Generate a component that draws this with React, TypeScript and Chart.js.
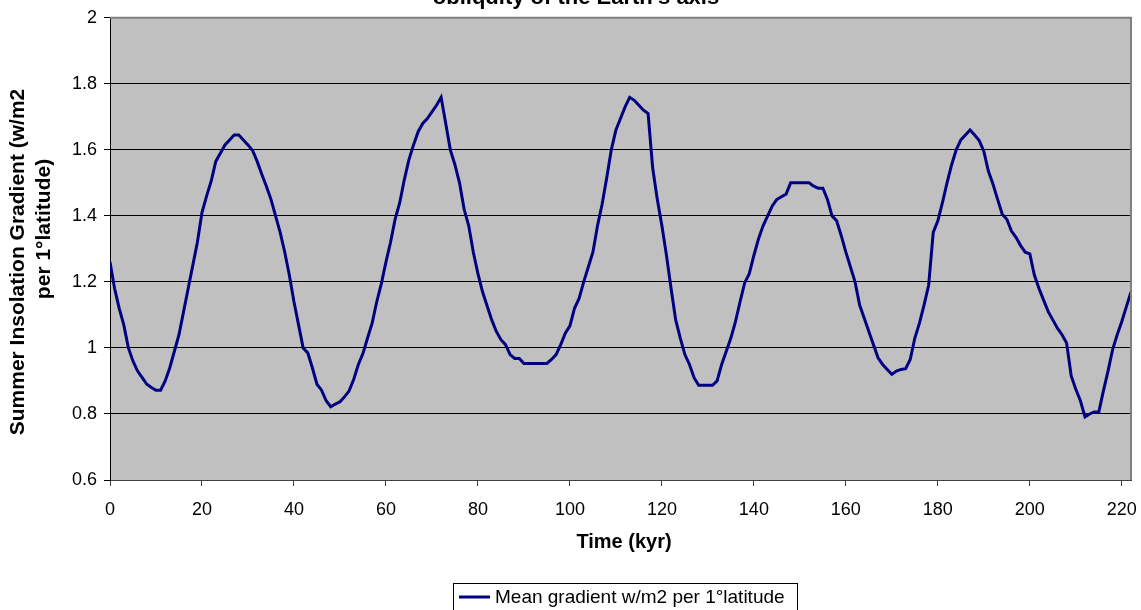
import React, { useEffect, useRef } from "react";
import { Chart, registerables } from "chart.js";

Chart.register(...registerables);

const CHART_TITLE = "obliquity of the Earth's axis";
const X_TITLE = "Time (kyr)";
const Y_TITLE_LINES = ["Summer Insolation Gradient (w/m2", "per 1°latitude)"];
const SERIES_LABEL = "Mean gradient w/m2 per 1°latitude";

const X_TICKS = [0, 20, 40, 60, 80, 100, 120, 140, 160, 180, 200, 220];
const Y_TICKS = [0.6, 0.8, 1, 1.2, 1.4, 1.6, 1.8, 2];

const TIME_KYR = [
  0, 1, 2, 3, 4, 5, 6, 7, 8, 9,
  10, 11, 12, 13, 14, 15, 16, 17, 18, 19,
  20, 21, 22, 23, 24, 25, 26, 27, 28, 29,
  30, 31, 32, 33, 34, 35, 36, 37, 38, 39,
  40, 41, 42, 43, 44, 45, 46, 47, 48, 49,
  50, 51, 52, 53, 54, 55, 56, 57, 58, 59,
  60, 61, 62, 63, 64, 65, 66, 67, 68, 69,
  70, 71, 72, 73, 74, 75, 76, 77, 78, 79,
  80, 81, 82, 83, 84, 85, 86, 87, 88, 89,
  90, 91, 92, 93, 94, 95, 96, 97, 98, 99,
  100, 101, 102, 103, 104, 105, 106, 107, 108, 109,
  110, 111, 112, 113, 114, 115, 116, 117, 118, 119,
  120, 121, 122, 123, 124, 125, 126, 127, 128, 129,
  130, 131, 132, 133, 134, 135, 136, 137, 138, 139,
  140, 141, 142, 143, 144, 145, 146, 147, 148, 149,
  150, 151, 152, 153, 154, 155, 156, 157, 158, 159,
  160, 161, 162, 163, 164, 165, 166, 167, 168, 169,
  170, 171, 172, 173, 174, 175, 176, 177, 178, 179,
  180, 181, 182, 183, 184, 185, 186, 187, 188, 189,
  190, 191, 192, 193, 194, 195, 196, 197, 198, 199,
  200, 201, 202, 203, 204, 205, 206, 207, 208, 209,
  210, 211, 212, 213, 214, 215, 216, 217, 218, 219,
  220, 221, 222,
];

const MEAN_GRADIENT = [
  1.26, 1.18, 1.12, 1.07, 1.0, 0.96, 0.93, 0.91, 0.89, 0.88,
  0.872, 0.872, 0.9, 0.94, 0.99, 1.04, 1.11, 1.18, 1.25, 1.32,
  1.41, 1.46, 1.505, 1.565, 1.59, 1.615, 1.63, 1.645, 1.645, 1.63,
  1.615, 1.598, 1.565, 1.526, 1.49, 1.45, 1.4, 1.35, 1.29, 1.22,
  1.14, 1.07, 1.0, 0.985, 0.94, 0.89, 0.872, 0.84, 0.822, 0.83,
  0.837, 0.852, 0.87, 0.905, 0.95, 0.983, 1.03, 1.075, 1.14, 1.195,
  1.26, 1.32, 1.39, 1.44, 1.51, 1.57, 1.615, 1.655, 1.68, 1.695,
  1.715, 1.735, 1.759, 1.68, 1.6, 1.555, 1.5, 1.42, 1.37, 1.29,
  1.225, 1.17, 1.127, 1.085, 1.05, 1.025, 1.01, 0.98, 0.968, 0.968,
  0.953, 0.953, 0.953, 0.953, 0.953, 0.953, 0.965, 0.98, 1.01, 1.045,
  1.067, 1.12, 1.15, 1.2, 1.245, 1.29, 1.37, 1.435, 1.515, 1.6,
  1.66, 1.695, 1.73, 1.759, 1.75, 1.735, 1.72, 1.71, 1.545, 1.45,
  1.37, 1.28, 1.18, 1.085, 1.03, 0.98, 0.95, 0.91, 0.887, 0.887,
  0.887, 0.887, 0.9, 0.95, 0.99, 1.03, 1.08, 1.14, 1.197, 1.225,
  1.28, 1.33, 1.37, 1.4, 1.43, 1.45, 1.458, 1.466, 1.5, 1.5,
  1.5, 1.5, 1.5, 1.49, 1.484, 1.484, 1.45, 1.4, 1.385, 1.34,
  1.29, 1.245, 1.2, 1.13, 1.09, 1.05, 1.01, 0.97, 0.95, 0.935,
  0.92, 0.93, 0.935, 0.937, 0.965, 1.03, 1.075, 1.13, 1.19, 1.35,
  1.385, 1.44, 1.5, 1.555, 1.6, 1.63, 1.645, 1.66, 1.645, 1.628,
  1.596, 1.535, 1.496, 1.45, 1.405, 1.39, 1.354, 1.335, 1.31, 1.29,
  1.285, 1.22, 1.18, 1.145, 1.11, 1.085, 1.06, 1.04, 1.015, 0.915,
  0.875, 0.84, 0.791, 0.8, 0.806, 0.806, 0.87, 0.93, 0.995, 1.04,
  1.08, 1.125, 1.17,
];

const FONT = "'Liberation Sans', Arial, sans-serif";
const LINE_COLOR = "#000080";
const PLOT_BG = "#C0C0C0";

const decorPlugin = {
  id: "excelDecor",
  beforeDraw(chart: any) {
    const { ctx, chartArea } = chart;
    ctx.save();
    ctx.fillStyle = PLOT_BG;
    ctx.fillRect(chartArea.left, chartArea.top, chartArea.right - chartArea.left, chartArea.bottom - chartArea.top);
    ctx.restore();
  },
  afterDraw(chart: any) {
    const { ctx, chartArea } = chart;
    ctx.save();
    // top & right plot border
    ctx.strokeStyle = "#808080";
    ctx.lineWidth = 2;
    ctx.beginPath();
    ctx.moveTo(chartArea.left, chartArea.top);
    ctx.lineTo(chartArea.right, chartArea.top);
    ctx.lineTo(chartArea.right, chartArea.bottom);
    ctx.stroke();

    // chart title (cut at the top edge)
    ctx.fillStyle = "#000";
    ctx.font = `bold 22px ${FONT}`;
    ctx.textAlign = "center";
    ctx.textBaseline = "alphabetic";
    ctx.fillText(CHART_TITLE, 576, 4);

    // x axis title
    ctx.font = `bold 20px ${FONT}`;
    ctx.textBaseline = "middle";
    ctx.fillText(X_TITLE, 624, 542);

    // y axis title (two rotated lines)
    ctx.font = `bold 21px ${FONT}`;
    ctx.save();
    ctx.translate(18, 262);
    ctx.rotate(-Math.PI / 2);
    ctx.fillText(Y_TITLE_LINES[0], 0, 0);
    ctx.restore();
    ctx.save();
    ctx.translate(44, 229);
    ctx.rotate(-Math.PI / 2);
    ctx.fillText(Y_TITLE_LINES[1], 0, 0);
    ctx.restore();

    // legend box
    ctx.fillStyle = "#fff";
    ctx.fillRect(453.5, 583.5, 344, 40);
    ctx.strokeStyle = "#000";
    ctx.lineWidth = 1;
    ctx.strokeRect(453.5, 583.5, 344, 40);
    ctx.strokeStyle = LINE_COLOR;
    ctx.lineWidth = 3;
    ctx.beginPath();
    ctx.moveTo(459, 597);
    ctx.lineTo(490, 597);
    ctx.stroke();
    ctx.fillStyle = "#000";
    ctx.font = `19px ${FONT}`;
    ctx.textAlign = "left";
    ctx.textBaseline = "middle";
    ctx.fillText(SERIES_LABEL, 495, 598);
    ctx.restore();
  },
};

export default function App() {
  const canvasRef = useRef<HTMLCanvasElement | null>(null);

  useEffect(() => {
    if (!canvasRef.current) return;
    const points = TIME_KYR.map((t, i) => ({ x: t, y: MEAN_GRADIENT[i] }));
    const chart = new Chart(canvasRef.current, {
      type: "line",
      data: {
        datasets: [
          {
            label: SERIES_LABEL,
            data: points,
            borderColor: LINE_COLOR,
            backgroundColor: LINE_COLOR,
            borderWidth: 3,
            pointRadius: 0,
            tension: 0,
            fill: false,
          },
        ],
      },
      options: {
        responsive: false,
        animation: false,
        layout: { padding: { top: 16, right: 10, left: 0, bottom: 0 } },
        plugins: {
          legend: { display: false },
          title: { display: false },
          tooltip: { enabled: false },
        },
        scales: {
          x: {
            type: "linear",
            min: 0,
            max: 222,
            afterFit: (scale: any) => {
              scale.height = 130;
              scale.paddingRight = 0;
              scale.paddingLeft = 0;
            },
            afterBuildTicks: (scale: any) => {
              scale.ticks = X_TICKS.map((v) => ({ value: v }));
            },
            ticks: {
              color: "#000",
              font: { family: FONT, size: 18 },
              padding: 13,
              maxRotation: 0,
              autoSkip: false,
              callback: (v: any) => String(v),
            },
            grid: {
              drawOnChartArea: false,
              drawTicks: true,
              tickLength: 6,
              tickColor: "#404040",
              lineWidth: 1,
            },
            border: { display: true, color: "#404040", width: 1 },
          },
          y: {
            type: "linear",
            min: 0.6,
            max: 2,
            afterFit: (scale: any) => {
              scale.width = 110;
            },
            afterBuildTicks: (scale: any) => {
              scale.ticks = Y_TICKS.map((v) => ({ value: v }));
            },
            ticks: {
              color: "#000",
              font: { family: FONT, size: 18 },
              padding: 7,
              callback: (v: any) => String(Math.round(Number(v) * 10) / 10),
            },
            grid: {
              color: "#000",
              lineWidth: 1,
              drawTicks: true,
              tickLength: 6,
              tickColor: "#000",
            },
            border: { display: true, color: "#000", width: 1 },
          },
        },
      },
      plugins: [decorPlugin],
    });
    return () => chart.destroy();
  }, []);

  return (
    <div style={{ position: "absolute", left: 0, top: 0, width: 1141, height: 610, background: "#fff", overflow: "hidden" }}>
      <canvas ref={canvasRef} width={1141} height={610} style={{ display: "block" }} />
    </div>
  );
}
